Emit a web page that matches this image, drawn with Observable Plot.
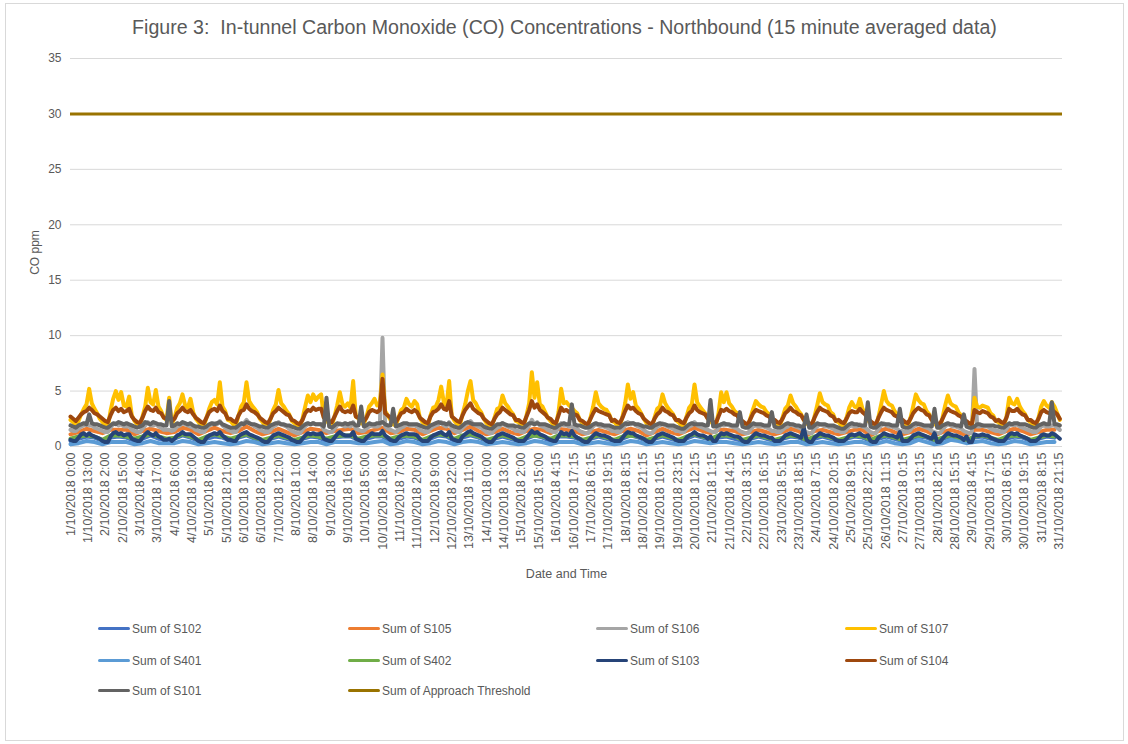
<!DOCTYPE html>
<html><head><meta charset="utf-8">
<script src="https://cdn.jsdelivr.net/npm/d3@7"></script>
<script src="https://cdn.jsdelivr.net/npm/@observablehq/plot@0.6"></script>
<style>
body{margin:0;background:#fff;font-family:"Liberation Sans",Arial,sans-serif;}
#frame{position:absolute;left:5px;top:3px;width:1119px;height:738px;border:1px solid #d9d9d9;box-sizing:border-box;background:#fff;}
#title{position:absolute;left:0;width:100%;top:12px;text-align:center;font-size:19.6px;color:#595959;white-space:pre;}
#chart{position:absolute;left:0;top:0;}
.leg{position:absolute;font-size:12px;line-height:16px;color:#595959;white-space:nowrap;}
.sw{display:inline-block;width:32px;height:3px;vertical-align:middle;margin-right:2px;border-radius:1.5px;position:relative;top:-1px;}
</style></head>
<body>
<div id="frame">
  <div id="title">Figure 3:  In-tunnel Carbon Monoxide (CO) Concentrations - Northbound (15 minute averaged data)</div>
  <div id="chart"></div>
  <div id="legend"></div>
</div>
<script>
// ---- tick labels (category labels on the x axis) ----
const tickLabels = ["1/10/2018 0:00","1/10/2018 13:00","2/10/2018 2:00","2/10/2018 15:00","3/10/2018 4:00","3/10/2018 17:00","4/10/2018 6:00","4/10/2018 19:00","5/10/2018 8:00","5/10/2018 21:00","6/10/2018 10:00","6/10/2018 23:00","7/10/2018 12:00","8/10/2018 1:00","8/10/2018 14:00","9/10/2018 3:00","9/10/2018 16:00","10/10/2018 5:00","10/10/2018 18:00","11/10/2018 7:00","11/10/2018 20:00","12/10/2018 9:00","12/10/2018 22:00","13/10/2018 11:00","14/10/2018 0:00","14/10/2018 13:00","15/10/2018 2:00","15/10/2018 15:00","16/10/2018 4:15","16/10/2018 17:15","17/10/2018 6:15","17/10/2018 19:15","18/10/2018 8:15","18/10/2018 21:15","19/10/2018 10:15","19/10/2018 23:15","20/10/2018 12:15","21/10/2018 1:15","21/10/2018 14:15","22/10/2018 3:15","22/10/2018 16:15","23/10/2018 5:15","23/10/2018 18:15","24/10/2018 7:15","24/10/2018 20:15","25/10/2018 9:15","25/10/2018 22:15","26/10/2018 11:15","27/10/2018 0:15","27/10/2018 13:15","28/10/2018 2:15","28/10/2018 15:15","29/10/2018 4:15","29/10/2018 17:15","30/10/2018 6:15","30/10/2018 19:15","31/10/2018 8:15","31/10/2018 21:15"];
const yTicks = [0,5,10,15,20,25,30,35];
const approachThreshold = 30;

// ---- series values, 2-hourly (0,2,...,22h each day, 1-31 Oct) ----
const S107 = [
2.4,2.2,1.9,2.3,2.9,3.4,3.8,5.2,3.9,3.4,3.0,2.5, 2.2,1.9,1.8,3.2,4.3,5.0,4.2,4.9,3.7,3.6,4.5,2.8,
2.3,2.0,1.9,2.7,3.6,5.3,4.0,3.8,5.1,3.6,3.2,2.6, 2.4,4.4,2.0,2.6,3.5,3.9,4.7,3.7,3.5,4.3,3.1,2.5,
2.2,1.9,1.8,2.6,3.4,4.0,4.2,3.8,5.8,3.6,3.2,2.4, 2.3,2.0,1.9,2.8,3.6,4.0,5.8,4.1,3.7,3.4,3.1,2.5,
2.2,1.9,1.8,2.5,3.3,3.8,5.1,3.9,3.6,3.2,2.9,2.3, 2.1,1.9,1.8,2.5,3.6,4.6,4.0,4.7,4.2,4.5,4.7,2.6,
2.4,2.0,1.9,2.7,3.7,4.9,3.8,3.6,3.9,3.5,5.9,2.7, 2.5,2.1,2.0,2.7,3.6,3.9,4.3,3.7,3.9,6.5,3.2,2.8,
2.4,2.0,1.9,2.6,3.3,3.5,4.3,3.8,3.6,4.1,3.8,2.6, 2.2,1.9,1.8,2.8,3.5,3.6,4.2,5.4,4.0,3.7,5.9,2.7,
2.3,2.0,1.9,2.9,3.8,5.0,5.9,4.2,3.9,3.4,3.1,2.5, 2.1,1.9,1.8,2.6,3.4,3.5,4.6,3.9,3.6,3.2,2.9,2.3,
2.2,1.9,1.9,2.8,3.9,6.7,4.4,5.8,3.8,3.6,3.1,2.6, 2.3,2.0,1.9,3.1,5.2,3.9,4.0,3.7,3.5,3.2,3.0,2.4,
2.1,1.9,1.8,2.6,3.6,4.9,3.9,3.6,3.4,3.3,2.9,2.3, 2.2,1.9,1.8,2.7,3.9,5.6,4.3,4.9,3.7,3.4,3.0,2.5,
2.1,1.8,1.7,2.6,3.4,3.6,4.7,3.9,3.5,3.2,2.9,2.4, 2.2,1.9,1.8,2.7,3.5,3.8,5.6,4.0,3.6,3.3,3.0,2.5,
2.3,2.0,1.9,3.0,4.9,4.0,4.9,3.9,3.6,3.2,3.0,2.4, 2.1,1.9,1.8,2.6,3.4,4.1,3.8,3.6,3.5,3.1,2.9,2.3,
2.2,1.9,1.8,2.6,3.4,3.7,4.6,3.9,3.6,3.2,2.9,2.4, 2.1,1.9,1.8,2.7,3.7,4.8,4.0,3.8,3.7,3.1,2.9,2.3,
2.2,1.9,1.8,2.6,3.5,4.0,3.6,3.5,4.3,3.4,3.0,2.4, 2.1,1.9,1.8,2.7,3.8,5.0,4.1,3.8,3.7,3.2,2.9,2.3,
2.2,1.9,1.8,2.6,3.6,4.7,4.2,3.9,3.8,3.2,2.9,2.4, 2.1,1.8,1.7,2.6,3.7,4.6,3.9,3.7,3.6,3.1,2.8,2.3,
2.1,1.9,1.8,4.4,3.6,3.5,3.7,3.6,3.5,3.0,2.8,2.3, 2.2,1.9,1.8,2.7,4.4,3.9,3.8,4.3,3.6,3.2,2.9,2.4,
2.2,1.9,1.8,2.6,3.6,4.1,3.7,3.5,4.0,3.6,3.0,2.4];
const S104 = [
2.7,2.5,2.3,2.6,2.9,3.1,3.2,3.5,3.3,3.0,2.9,2.7, 2.5,2.3,2.2,2.8,3.3,3.5,3.2,3.4,3.1,3.2,3.4,2.7,
2.4,2.2,2.1,2.6,3.2,3.6,3.3,3.2,3.5,3.1,3.0,2.6, 2.5,2.8,2.3,2.5,3.0,3.2,3.5,3.2,3.1,3.3,2.9,2.6,
2.4,2.2,2.1,2.6,3.1,3.3,3.4,3.2,3.7,3.2,3.0,2.5, 2.5,2.3,2.2,2.8,3.2,3.3,3.8,3.4,3.2,3.1,2.9,2.6,
2.4,2.2,2.1,2.5,3.0,3.2,3.5,3.3,3.1,2.9,2.8,2.4, 2.3,2.1,2.0,2.4,3.0,3.3,3.2,3.5,3.3,3.4,3.4,2.6,
2.5,2.3,2.2,2.7,3.2,3.6,3.2,3.1,3.2,3.1,3.7,2.7, 2.6,2.4,2.3,2.6,3.1,3.3,3.2,3.1,3.3,6.1,3.0,2.8,
2.6,2.3,2.2,2.6,3.0,3.1,3.4,3.2,3.1,3.3,3.1,2.6, 2.4,2.2,2.1,2.7,3.1,3.2,3.4,3.8,3.4,3.3,4.1,2.7,
2.5,2.3,2.2,2.8,3.3,3.6,3.9,3.4,3.2,3.0,2.9,2.5, 2.3,2.1,2.0,2.5,2.9,3.1,3.5,3.3,3.1,2.9,2.8,2.4,
2.4,2.2,2.1,2.7,3.3,4.1,3.5,3.8,3.3,3.1,2.9,2.6, 2.5,2.2,2.1,2.8,3.5,3.2,3.3,3.1,3.0,2.9,2.8,2.4,
2.3,2.1,2.0,2.5,3.0,3.4,3.2,3.1,3.0,2.9,2.8,2.3, 2.4,2.2,2.1,2.6,3.2,3.7,3.4,3.5,3.2,3.0,2.9,2.5,
2.3,2.1,2.0,2.5,2.9,3.1,3.5,3.2,3.1,2.9,2.8,2.4, 2.4,2.2,2.1,2.6,3.0,3.2,3.7,3.3,3.1,3.0,2.9,2.5,
2.5,2.2,2.1,2.7,3.3,3.2,3.4,3.2,3.1,2.9,2.8,2.4, 2.3,2.1,2.0,2.5,3.0,3.3,3.2,3.1,3.0,2.8,2.7,2.3,
2.4,2.2,2.1,2.5,3.0,3.2,3.5,3.2,3.1,2.9,2.8,2.4, 2.3,2.1,2.0,2.6,3.1,3.5,3.3,3.2,3.1,2.8,2.7,2.3,
2.4,2.2,2.1,2.5,3.0,3.2,3.1,3.1,3.4,3.1,2.9,2.5, 2.3,2.1,2.0,2.6,3.1,3.5,3.3,3.2,3.1,2.8,2.7,2.3,
2.4,2.2,2.1,2.5,3.0,3.3,3.5,3.3,3.2,2.9,2.8,2.4, 2.3,2.1,2.0,2.5,3.0,3.4,3.2,3.1,3.0,2.8,2.7,2.3,
2.3,2.1,2.0,3.3,3.1,3.0,3.2,3.1,3.0,2.7,2.6,2.3, 2.4,2.2,2.1,2.6,3.4,3.2,3.2,3.4,3.1,2.9,2.8,2.4,
2.4,2.2,2.1,2.5,3.1,3.3,3.1,3.0,3.3,3.1,2.9,2.5];
const S101 = [
1.9,1.8,1.7,1.9,2.0,2.1,2.0,2.9,2.1,2.0,2.0,1.9, 1.8,1.7,1.7,1.9,2.1,2.0,2.2,2.1,2.0,2.1,2.0,1.9,
1.8,1.7,1.8,1.9,2.2,2.1,2.0,2.2,2.1,2.0,2.0,1.9, 1.9,4.1,1.8,1.9,2.1,2.0,2.2,2.1,2.0,2.1,1.9,1.8,
1.8,1.7,1.7,1.8,2.0,2.1,2.0,2.1,2.2,2.0,1.9,1.8, 1.7,1.7,1.7,1.9,2.1,2.0,2.2,2.1,2.0,2.0,1.9,1.8,
1.8,1.7,1.7,1.9,2.0,2.1,2.1,2.0,2.0,1.9,1.9,1.8, 1.7,1.6,1.6,1.8,2.0,2.1,2.0,2.1,2.0,2.0,2.0,1.8,
4.4,1.8,1.7,1.9,2.1,2.0,2.0,2.1,2.0,2.1,2.1,1.9, 1.9,3.6,1.8,1.9,2.1,2.0,2.0,2.1,2.1,2.2,2.0,1.9,
1.9,3.4,1.8,1.9,2.0,2.1,2.1,2.0,2.0,2.0,2.0,1.9, 1.8,1.7,1.7,1.9,2.0,2.1,2.2,2.1,2.1,2.0,2.1,1.9,
1.8,1.7,1.7,1.9,2.1,2.2,2.1,2.0,2.0,2.0,2.0,1.8, 1.7,1.6,1.6,1.8,2.0,2.0,2.1,2.0,1.9,1.9,1.9,1.8,
1.8,1.7,1.7,1.9,2.1,2.1,2.0,2.1,2.0,2.0,2.0,1.9, 1.8,1.7,1.7,1.9,2.0,2.1,2.0,2.0,3.8,2.0,1.9,1.9,
1.8,1.7,1.7,1.8,2.0,2.1,2.0,2.0,1.9,1.9,1.9,1.8, 1.7,1.7,1.7,1.9,2.1,2.0,2.1,2.1,2.0,2.0,1.9,1.8,
1.8,1.7,1.7,1.9,2.0,2.1,2.0,2.0,1.9,1.9,1.9,1.8, 1.7,1.6,1.6,1.8,2.0,2.1,2.0,2.0,2.0,2.0,1.9,1.9,
4.2,1.8,1.8,1.9,2.0,2.1,2.0,2.0,1.9,1.9,1.9,3.1, 1.8,1.7,1.7,1.9,2.1,2.0,2.0,2.0,1.9,1.9,1.9,3.1,
1.8,1.7,1.7,1.8,2.0,2.1,2.0,2.0,1.9,1.9,1.8,1.8, 2.9,1.7,1.7,1.9,2.1,2.0,2.0,2.0,1.9,1.9,1.9,1.8,
1.7,1.6,1.6,1.8,2.0,2.1,2.0,2.0,1.9,1.9,1.9,4.0, 1.8,1.7,1.7,1.9,2.1,2.0,2.0,2.0,1.9,1.9,1.9,3.4,
1.8,1.7,1.7,1.8,2.0,2.1,2.0,2.0,1.9,1.9,1.9,1.8, 3.4,1.7,1.7,1.9,2.0,2.1,2.0,2.0,1.9,1.9,1.8,2.9,
1.8,1.7,1.7,1.8,2.0,2.0,1.9,1.9,1.9,1.9,1.9,1.8, 1.8,1.7,1.7,1.9,2.1,2.0,2.1,2.1,2.0,2.0,2.0,1.9,
1.8,1.7,1.7,1.9,2.0,2.1,2.0,2.0,4.0,2.0,2.0,1.9];
const S106 = [
1.5,1.4,1.4,1.6,1.8,1.9,2.0,1.9,1.9,1.7,1.6,1.5, 1.4,1.3,1.3,1.7,2.0,2.1,1.9,2.0,1.8,1.8,1.8,1.5,
1.4,1.3,1.3,1.6,1.9,2.2,1.9,1.9,2.0,1.8,1.7,1.5, 1.5,1.5,1.4,1.5,1.8,1.9,2.1,2.0,1.9,1.8,1.7,1.5,
1.4,1.3,1.3,1.6,1.9,2.0,2.1,2.0,2.3,1.9,1.7,1.5, 1.4,1.3,1.3,1.7,2.0,2.1,2.4,2.1,2.0,1.8,1.7,1.5,
1.4,1.3,1.3,1.5,1.8,1.9,2.2,2.0,1.9,1.8,1.6,1.4, 1.3,1.2,1.2,1.5,1.8,2.0,2.0,2.1,2.0,2.0,2.0,1.5,
1.4,1.3,1.3,1.6,1.9,2.1,1.9,1.8,1.9,1.8,2.2,1.6, 1.5,1.4,1.4,1.6,1.8,1.9,1.8,1.8,1.9,9.8,1.8,1.6,
1.5,1.4,1.3,1.5,1.7,1.8,2.0,1.9,1.9,1.9,1.8,1.5, 1.4,1.3,1.3,1.6,1.8,1.9,2.0,2.2,1.9,1.8,2.2,1.6,
1.4,1.3,1.3,1.7,1.9,2.1,2.3,2.0,1.9,1.8,1.7,1.5, 1.3,1.2,1.2,1.5,1.7,1.8,2.1,1.9,1.8,1.7,1.6,1.4,
1.4,1.3,1.3,1.6,1.9,2.4,2.0,2.2,1.9,1.8,1.7,1.5, 1.4,1.3,1.3,1.7,2.1,1.9,1.9,1.8,1.8,1.7,1.6,1.4,
1.3,1.2,1.2,1.5,1.8,2.0,1.9,1.8,1.8,1.7,1.6,1.4, 1.4,1.3,1.3,1.6,1.9,2.2,2.0,2.1,1.9,1.8,1.7,1.5,
1.3,1.2,1.2,1.5,1.8,1.9,2.1,1.9,1.8,1.7,1.6,1.4, 1.4,1.3,1.3,1.6,1.8,1.9,2.2,1.9,1.8,1.7,1.6,1.5,
1.4,1.3,1.3,1.7,2.0,1.9,2.0,1.9,1.8,1.7,1.6,1.4, 1.3,1.2,1.2,1.5,1.8,1.9,1.8,1.8,1.8,1.7,1.6,1.4,
1.4,1.3,1.3,1.5,1.7,1.8,2.0,1.9,1.8,1.7,1.6,1.4, 1.3,1.2,1.2,1.6,1.8,2.0,1.9,1.8,1.8,1.7,1.6,1.4,
1.4,1.3,1.3,1.5,1.8,1.9,1.8,1.8,2.0,1.8,1.7,1.5, 1.3,1.2,1.2,1.6,1.9,2.1,1.9,1.8,1.8,1.7,1.6,1.4,
1.4,1.3,1.3,1.5,1.8,1.9,2.1,1.9,1.8,1.7,1.6,1.4, 1.3,1.2,1.2,1.5,1.8,2.0,1.9,1.8,1.8,1.7,1.6,1.4,
1.3,1.2,1.2,7.0,1.8,1.8,1.9,1.8,1.8,1.6,1.5,1.4, 1.4,1.3,1.3,1.6,1.9,2.0,1.9,2.0,1.8,1.7,1.6,1.5,
1.4,1.3,1.3,1.5,1.8,1.9,1.8,1.8,1.9,1.9,1.7,1.5];
const S103 = [
0.6,0.5,0.5,0.8,1.1,1.2,1.0,1.2,1.0,0.9,0.8,0.7, 0.5,0.4,0.4,0.9,1.2,1.3,1.1,1.2,1.0,1.1,1.1,0.7,
0.6,0.5,0.5,0.8,1.1,1.3,1.1,1.0,1.2,0.9,0.8,0.6, 0.6,0.7,0.5,0.7,1.0,1.1,1.3,1.1,1.1,1.1,0.9,0.7,
0.5,0.4,0.4,0.8,1.0,1.1,1.2,1.1,1.3,1.0,0.8,0.6, 0.6,0.5,0.5,0.9,1.1,1.2,1.3,1.1,1.0,0.9,0.8,0.7,
0.5,0.4,0.4,0.7,1.0,1.1,1.2,1.1,1.0,0.9,0.8,0.6, 0.5,0.4,0.4,0.7,1.0,1.2,1.1,1.2,1.1,1.1,1.2,0.7,
0.6,0.5,0.5,0.8,1.1,1.3,1.1,1.0,1.0,1.0,1.3,0.7, 0.6,0.5,0.5,0.8,1.0,1.2,1.1,1.1,1.1,1.4,1.0,0.8,
0.6,0.5,0.5,0.8,1.0,1.1,1.2,1.1,1.1,1.1,1.0,0.7, 0.5,0.5,0.5,0.8,1.0,1.1,1.2,1.3,1.1,1.0,1.3,0.7,
0.6,0.5,0.5,0.9,1.1,1.3,1.4,1.2,1.1,1.0,0.9,0.7, 0.5,0.4,0.4,0.7,1.0,1.1,1.2,1.1,1.0,0.9,0.8,0.6,
0.5,0.5,0.5,0.8,1.1,1.4,1.2,1.3,1.1,1.0,0.9,0.7, 0.6,0.5,0.5,0.9,1.3,1.1,1.2,1.0,1.4,1.0,0.8,0.7,
0.5,0.4,0.4,0.7,1.0,1.2,1.1,1.0,1.0,0.9,0.8,0.6, 0.5,0.5,0.5,0.8,1.1,1.3,1.2,1.2,1.0,0.9,0.8,0.7,
0.5,0.4,0.4,0.7,1.0,1.1,1.2,1.1,1.0,0.9,0.8,0.6, 0.5,0.5,0.5,0.8,1.0,1.1,1.3,1.1,1.0,1.0,0.9,0.7,
0.9,0.5,0.5,0.9,1.2,1.1,1.2,1.1,1.0,0.9,0.9,0.8, 0.5,0.4,0.4,0.7,1.0,1.2,1.1,1.0,1.0,0.9,0.8,0.8,
0.5,0.5,0.5,0.7,1.0,1.1,1.2,1.1,1.0,0.9,0.8,1.7, 0.6,0.4,0.4,0.8,1.0,1.2,1.1,1.0,1.0,0.9,0.8,0.6,
0.5,0.5,0.5,0.7,1.0,1.1,1.0,1.1,1.2,1.0,0.9,1.0, 0.5,0.4,0.4,0.8,1.0,1.2,1.1,1.0,1.0,0.9,0.8,1.3,
0.5,0.5,0.5,0.7,1.0,1.1,1.2,1.1,1.0,0.9,0.8,0.7, 1.2,0.4,0.4,0.7,1.0,1.2,1.1,1.0,1.0,0.9,0.8,0.6,
0.9,0.4,0.4,1.1,1.0,1.0,1.1,1.0,1.0,0.8,0.7,0.6, 0.5,0.5,0.5,0.8,1.1,1.2,1.1,1.2,1.0,0.9,0.8,0.7,
0.5,0.5,0.5,0.7,1.0,1.1,1.0,1.0,1.2,1.1,0.9,0.7];

// ---- series values, 6-hourly (0,6,12,18h each day) ----
const S105 = [
1.1,1.3,1.6,1.4, 1.2,1.5,1.5,1.5, 1.1,1.4,1.6,1.4, 1.2,1.3,1.7,1.5, 1.1,1.4,1.7,1.4, 1.2,1.4,1.8,1.4, 1.1,1.3,1.6,1.3, 1.0,1.3,1.6,1.5,
1.2,1.4,1.5,1.6, 1.2,1.3,1.5,1.7, 1.2,1.3,1.6,1.5, 1.1,1.4,1.7,1.6, 1.2,1.5,1.8,1.4, 1.1,1.3,1.6,1.3, 1.1,1.4,1.6,1.5, 1.2,1.6,1.5,1.4,
1.1,1.3,1.5,1.3, 1.1,1.4,1.6,1.4, 1.0,1.3,1.6,1.3, 1.1,1.4,1.7,1.4, 1.2,1.5,1.5,1.4, 1.1,1.3,1.5,1.3, 1.1,1.3,1.6,1.4, 1.0,1.4,1.5,1.3,
1.1,1.3,1.5,1.5, 1.0,1.4,1.6,1.3, 1.1,1.3,1.6,1.4, 1.0,1.3,1.5,1.3, 1.0,1.5,1.5,1.3, 1.1,1.4,1.6,1.4, 1.1,1.3,1.5,1.5];
const S402 = [
0.7,0.9,1.0,0.9, 0.6,1.0,1.0,0.9, 0.7,0.9,1.1,0.9, 0.7,0.8,1.1,0.9, 0.6,0.9,1.1,0.9, 0.7,0.9,1.1,0.8, 0.6,0.8,1.0,0.8, 0.6,0.8,1.0,0.9,
0.7,0.9,1.0,1.0, 0.7,0.9,1.0,1.0, 0.7,0.9,1.0,0.9, 0.6,0.9,1.1,1.0, 0.7,1.0,1.1,0.9, 0.6,0.8,1.0,0.8, 0.6,0.9,1.0,0.9, 0.7,1.0,1.0,0.9,
0.6,0.8,1.0,0.8, 0.6,0.9,1.0,0.9, 0.6,0.8,1.0,0.8, 0.6,0.9,1.1,0.9, 0.7,1.0,1.0,0.9, 0.6,0.8,1.0,0.8, 0.6,0.8,1.0,0.9, 0.6,0.9,1.0,0.8,
0.6,0.8,1.0,0.9, 0.6,0.9,1.0,0.8, 0.6,0.8,1.0,0.9, 0.6,0.8,1.0,0.8, 0.6,0.9,1.0,0.8, 0.6,0.9,1.0,0.9, 0.6,0.8,1.0,0.9];
const S401 = [
0.2,0.3,0.5,0.4, 0.2,0.4,0.4,0.4, 0.2,0.3,0.5,0.3, 0.3,0.3,0.5,0.4, 0.2,0.3,0.4,0.3, 0.2,0.3,0.5,0.4, 0.2,0.3,0.4,0.3, 0.2,0.3,0.4,0.4,
0.2,0.4,0.4,0.4, 0.3,0.3,0.4,0.5, 0.2,0.3,0.5,0.4, 0.2,0.3,0.5,0.4, 0.2,0.4,0.5,0.4, 0.2,0.3,0.4,0.3, 0.2,0.3,0.5,0.4, 0.2,0.4,0.4,0.4,
0.2,0.3,0.4,0.3, 0.2,0.3,0.5,0.4, 0.2,0.3,0.4,0.3, 0.2,0.3,0.5,0.4, 0.3,0.4,0.4,0.3, 0.2,0.3,0.4,0.3, 0.2,0.3,0.4,0.4, 0.2,0.3,0.4,0.3,
0.2,0.3,0.4,0.4, 0.2,0.3,0.5,0.3, 0.2,0.3,0.6,0.4, 0.2,0.3,0.6,0.5, 0.3,0.4,0.5,0.3, 0.2,0.3,0.5,0.4, 0.2,0.3,0.4,0.4];
const S102 = [
0.5,0.7,0.9,0.8, 0.5,0.8,0.9,0.8, 0.5,0.7,1.0,0.7, 0.6,0.7,1.0,0.8, 0.5,0.7,0.9,0.8, 0.5,0.8,1.0,0.7, 0.5,0.7,0.9,0.7, 0.5,0.7,0.9,0.8,
0.5,0.8,0.9,0.9, 0.6,0.7,0.9,0.9, 0.5,0.7,0.9,0.8, 0.5,0.7,1.0,0.9, 0.5,0.8,1.0,0.8, 0.5,0.7,0.9,0.7, 0.5,0.7,1.0,0.8, 0.5,0.9,0.9,0.8,
0.5,0.7,0.9,0.7, 0.5,0.7,1.0,0.8, 0.5,0.7,0.9,0.7, 0.5,0.7,1.0,0.8, 0.6,0.8,0.9,0.7, 0.5,0.7,0.9,0.7, 0.5,0.7,0.9,0.8, 0.5,0.7,0.9,0.7,
0.5,0.7,0.9,0.8, 0.5,0.7,0.9,0.7, 0.5,0.7,0.9,0.8, 0.5,0.7,0.9,0.7, 0.5,0.8,0.9,0.7, 0.5,0.7,0.9,0.8, 0.5,0.7,0.9,0.8];

// ---- series names / colours (Excel order = drawing order) ----
const seriesNames = ["Sum of S102","Sum of S105","Sum of S106","Sum of S107","Sum of S401","Sum of S402","Sum of S103","Sum of S104","Sum of S101","Sum of Approach Threshold"];
const seriesColors = ["#4472C4","#ED7D31","#A5A5A5","#FFC000","#5B9BD5","#70AD47","#264478","#9E480E","#636363","#997300"];
const seriesValues = [S102,S105,S106,S107,S401,S402,S103,S104,S101];
const seriesStepHours = [6,6,2,2,6,6,2,2,2];

const start = Date.UTC(2018, 9, 1);
const HOUR = 3600e3;
function parseLabel(s) {
  const [dmy, hm] = s.split(" ");
  const [d, m, y] = dmy.split("/").map(Number);
  const [h, mi] = hm.split(":").map(Number);
  return new Date(Date.UTC(y, m - 1, d, h, mi));
}
const tickDates = tickLabels.map(parseLabel);
const labelMap = new Map(tickDates.map((d, i) => [+d, tickLabels[i]]));

const lineMarks = seriesValues.map((vals, k) => {
  const data = vals.map((v, i) => ({t: new Date(start + i * seriesStepHours[k] * HOUR), v}));
  return Plot.line(data, {x: "t", y: "v", stroke: seriesColors[k], strokeWidth: 4, strokeLinejoin: "round", strokeLinecap: "round"});
});

const chart = Plot.plot({
  width: 1117, height: 590,
  marginLeft: 64, marginRight: 61, marginTop: 54, marginBottom: 148,
  style: {fontFamily: "'Liberation Sans', Arial, sans-serif", fontSize: "12px", color: "#595959", background: "transparent"},
  x: {type: "utc", domain: [new Date(start), new Date(Date.UTC(2018, 10, 1))]},
  y: {domain: [0, 35]},
  marks: [
    Plot.gridY(yTicks, {stroke: "#D9D9D9", strokeOpacity: 1, strokeWidth: 1}),
    Plot.axisY(yTicks, {tickSize: 0, tickPadding: 9, label: "CO ppm", labelAnchor: "center", labelArrow: "none", labelOffset: 40, fontSize: 12}),
    Plot.axisX(tickDates, {tickSize: 0, tickPadding: 6, tickRotate: -90, tickFormat: d => labelMap.get(+d), label: "Date and Time", labelAnchor: "center", labelArrow: "none", labelOffset: 131, fontSize: 12.5}),
    ...lineMarks,
    Plot.ruleY([approachThreshold], {stroke: seriesColors[9], strokeWidth: 3})
  ]
});
document.getElementById("chart").appendChild(chart);

// ---- legend (4 columns x 3 rows, Excel layout) ----
const colX = [92, 342, 590, 839];
const rowY = [617, 649, 679];
const legend = document.getElementById("legend");
seriesNames.forEach((name, k) => {
  const div = document.createElement("div");
  div.className = "leg";
  div.style.left = colX[k % 4] + "px";
  div.style.top = rowY[Math.floor(k / 4)] + "px";
  const sw = document.createElement("span");
  sw.className = "sw";
  sw.style.background = seriesColors[k];
  div.appendChild(sw);
  div.appendChild(document.createTextNode(name));
  legend.appendChild(div);
});
</script>
</body></html>
